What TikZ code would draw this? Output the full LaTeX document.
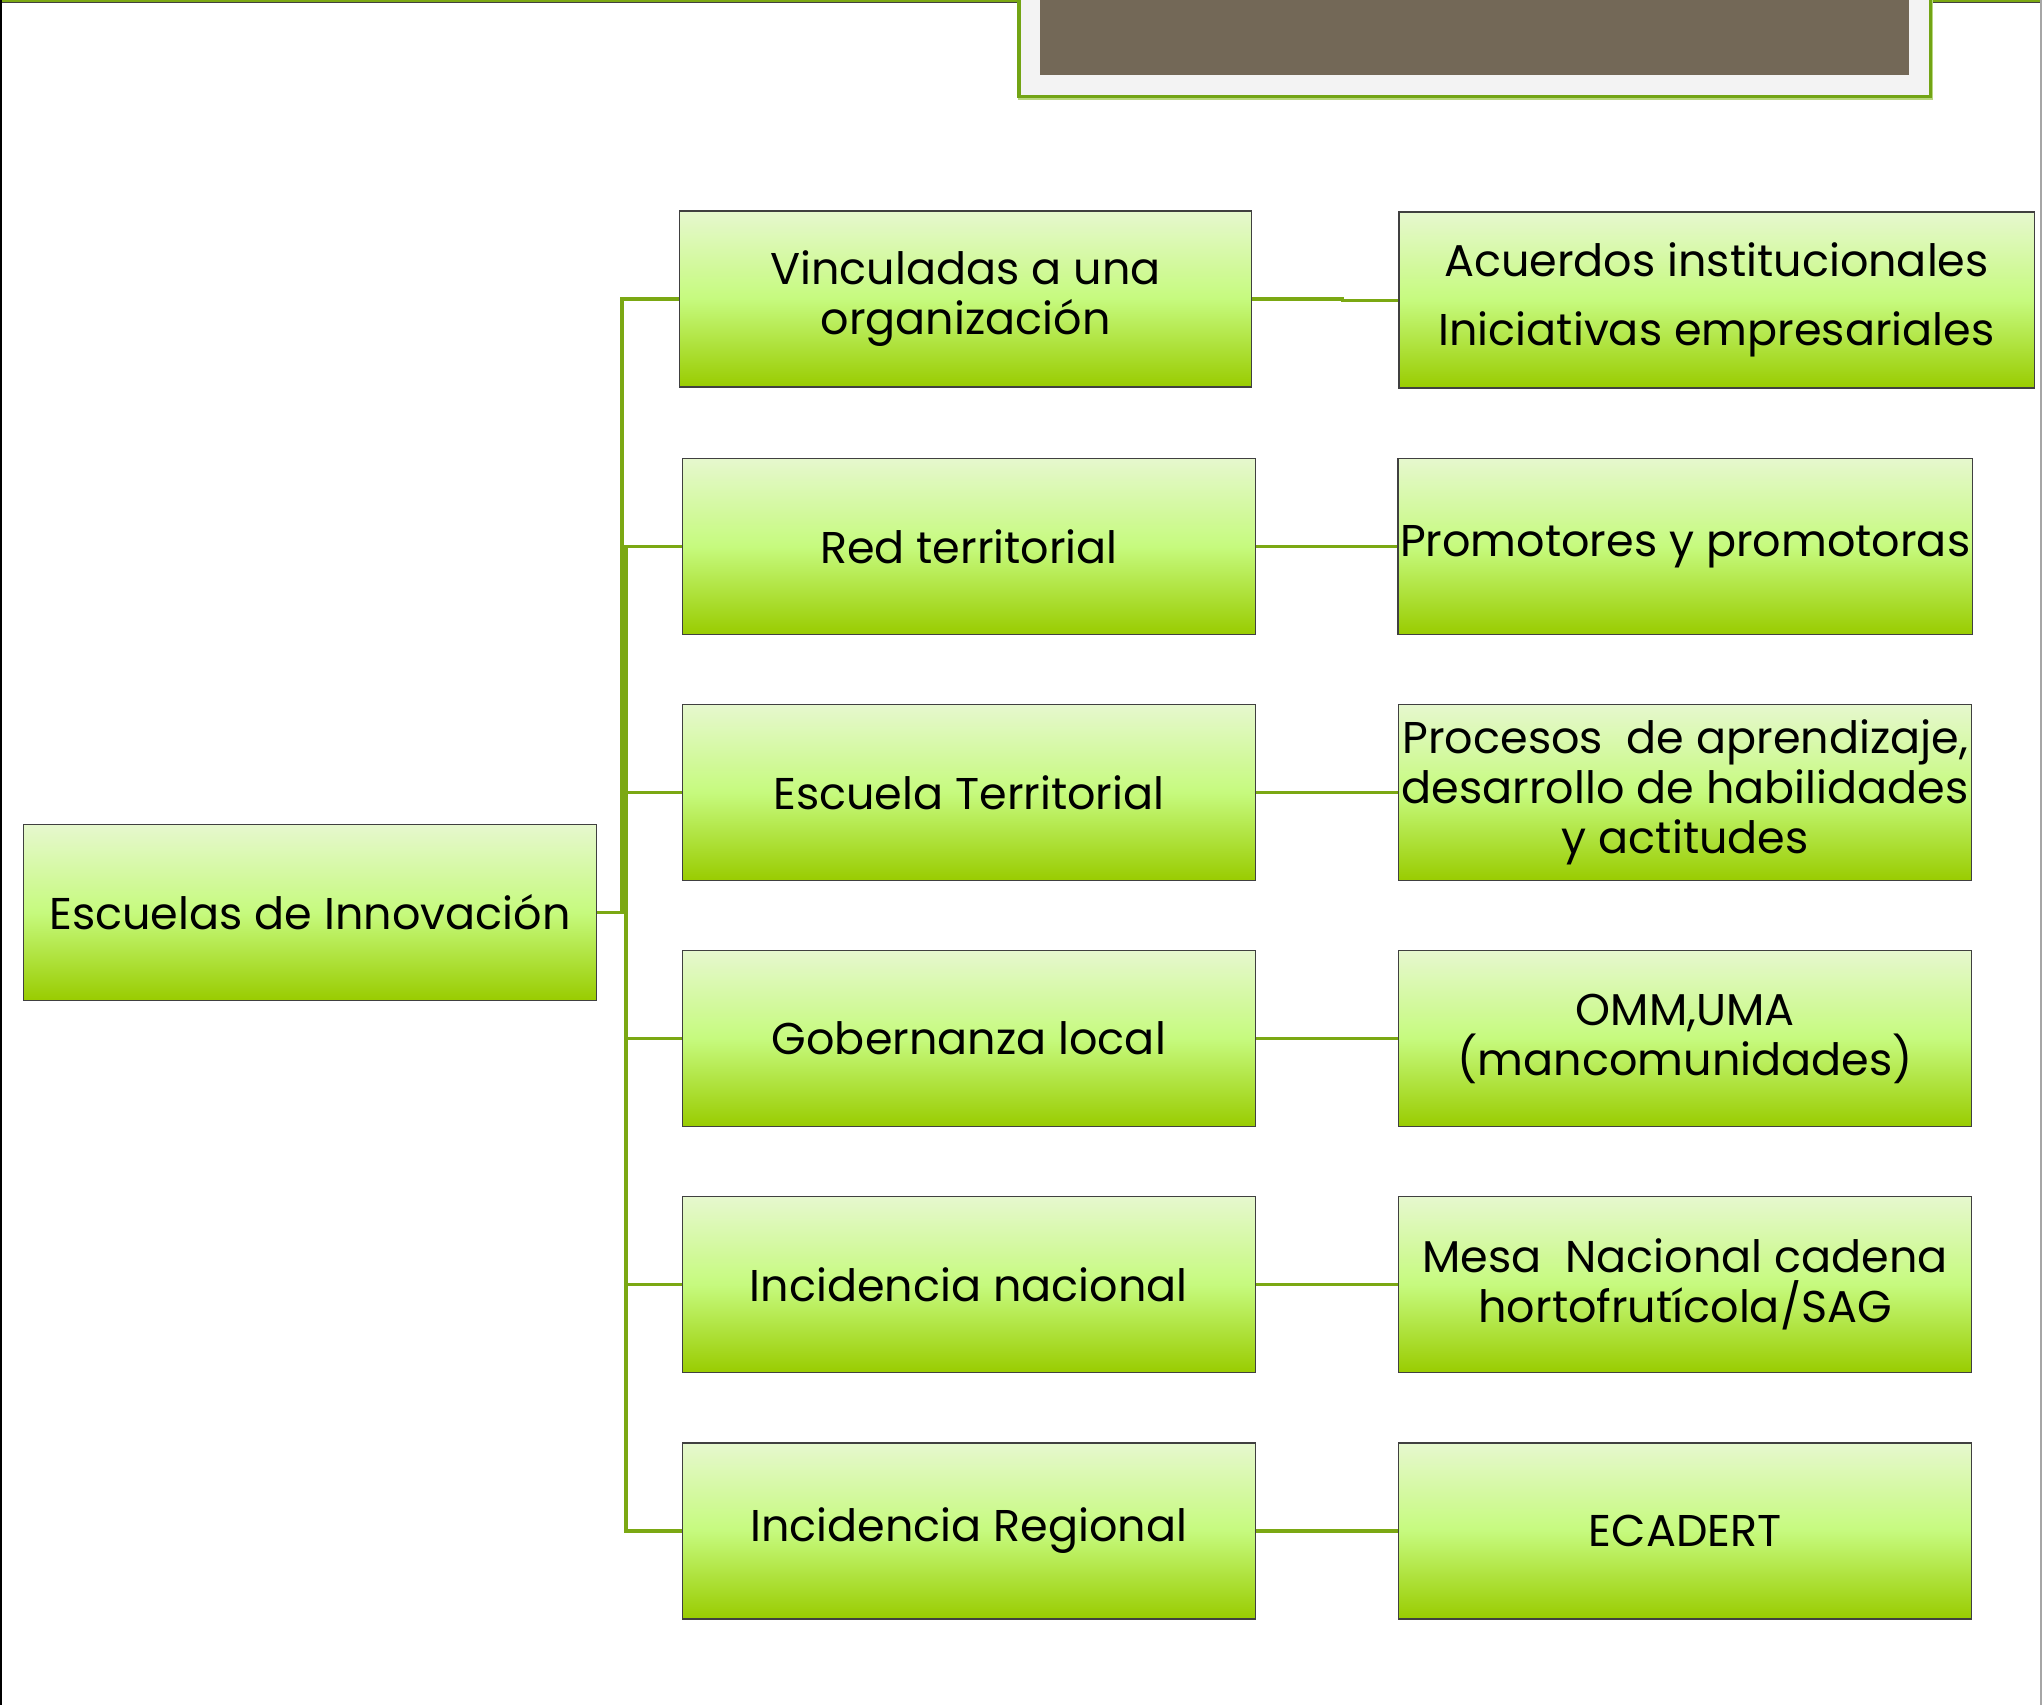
\documentclass[tikz,border=0pt]{standalone}
\usepackage{fontspec}
\setmainfont{Poppins}
\definecolor{conn}{HTML}{7BA813}
\definecolor{topc}{HTML}{E6F8CE}
\definecolor{midc}{HTML}{C6FA7E}
\definecolor{botc}{HTML}{99CC00}
\definecolor{boxline}{HTML}{404040}
\definecolor{bannerfill}{HTML}{F3F3F3}
\definecolor{bannergreen}{HTML}{72A414}
\definecolor{bannerlight}{HTML}{B8D77E}
\definecolor{brown}{HTML}{736857}
\tikzset{
  gbox/.style={draw=boxline, line width=1.5pt, top color=topc, bottom color=botc, middle color=midc,
    minimum height=176pt, align=center, inner sep=2pt,
    font=\fontsize{44.5}{50}\selectfont, text=black},
  connline/.style={draw=conn, line width=3.2pt},
}
\begin{document}
\begin{tikzpicture}[x=1pt,y=-1pt]
\useasboundingbox (0,0) rectangle (2042,1705);
\fill[white] (0,0) rectangle (2042,1705);
% page frame
\fill[conn] (0,0) rectangle (2042,2.2);
\fill[black!75] (0,2.2) rectangle (2042,3.4);
\fill[black] (0,0) rectangle (1.6,1705);
\fill[black!35] (2039.5,0) rectangle (2042,1705);
% banner
\fill[bannerlight] (1018,-5) rectangle (1932.5,100);
\fill[bannergreen] (1017,-5) rectangle (1932,98);
\fill[bannerfill] (1020.5,-5) rectangle (1929,95);
\fill[brown] (1040,-5) rectangle (1909,74.5);
% nodes
\node[gbox, minimum width=573pt] (root) at (310,912.3) {Escuelas de Innovación};
\node[gbox, minimum width=572pt] (m1) at (965.6,298.9) {Vinculadas a una\\organización};
\node[gbox, minimum width=573pt] (m2) at (968.9,546.3) {Red territorial};
\node[gbox, minimum width=573pt] (m3) at (968.9,792.5) {Escuela Territorial};
\node[gbox, minimum width=573pt] (m4) at (968.9,1038.6) {Gobernanza local};
\node[gbox, minimum width=573pt] (m5) at (968.9,1284.7) {Incidencia nacional};
\node[gbox, minimum width=573pt] (m6) at (968.9,1530.9) {Incidencia Regional};
\node[gbox, minimum width=635.5pt] (r1) at (1716.5,300.2) {Acuerdos institucionales\\[19pt]Iniciativas empresariales};
\node[gbox, minimum width=573pt] (r2) at (1685.2,546.3) {Promotores y promotoras};
\node[gbox, minimum width=573pt] (r3) at (1685.2,792.5) {Procesos\ \ de aprendizaje,\\desarrollo de habilidades\\y actitudes};
\node[gbox, minimum width=573pt] (r4) at (1685.2,1038.6) {OMM,UMA\\(mancomunidades)};
\node[gbox, minimum width=573pt] (r5) at (1685.2,1284.7) {Mesa\ \ Nacional cadena\\hortofrutícola/SAG};
\node[gbox, minimum width=573pt] (r6) at (1685.2,1530.9) {ECADERT};
% connectors
\coordinate (ta) at (622,912.3);
\coordinate (tb) at (626,912.3);
\draw[connline] (root.east) -- (tb);
\draw[connline] (m1.west) -| (ta);
\foreach \i in {2,...,6} { \draw[connline] (m\i.west) -| (tb); }
\draw[connline] (m1.east) -- ++(90,0) |- (r1.west);
\foreach \i in {2,...,6} { \draw[connline] (m\i.east) -- (r\i.west); }
\end{tikzpicture}
\end{document}
